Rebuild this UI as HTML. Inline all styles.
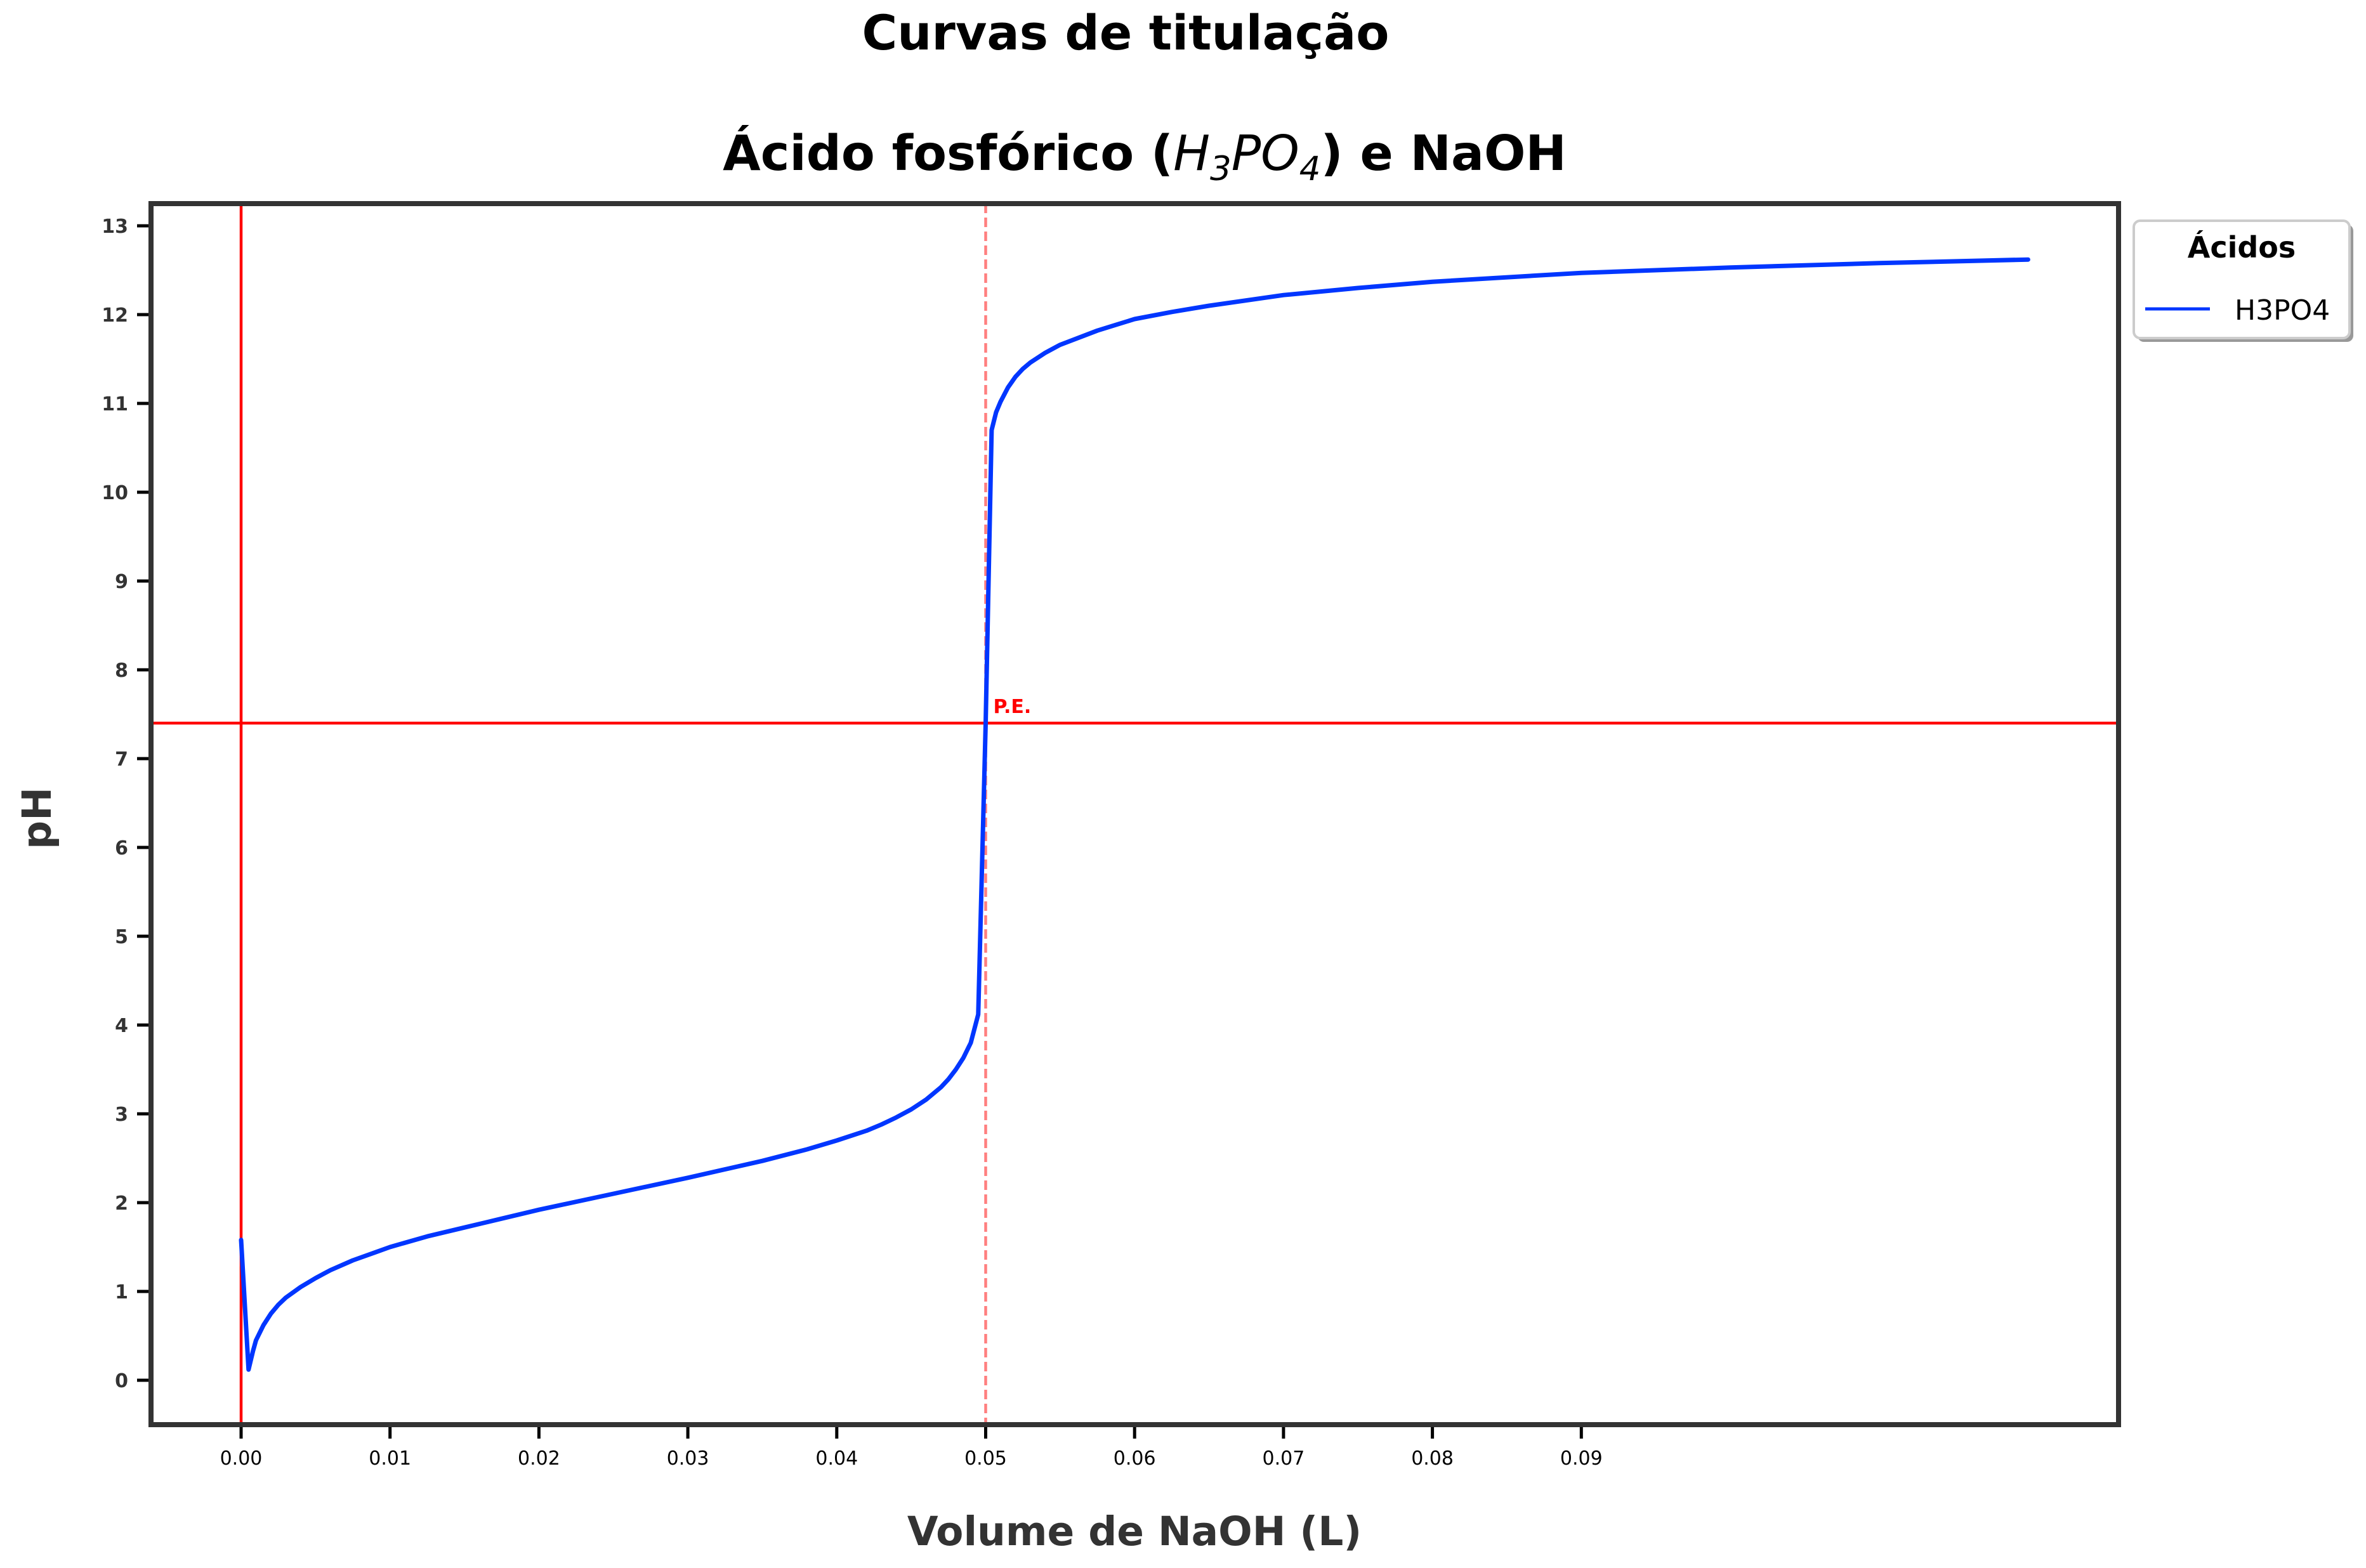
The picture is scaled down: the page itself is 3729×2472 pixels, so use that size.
<!DOCTYPE html>
<html><head><meta charset="utf-8"><style>
html,body{margin:0;padding:0;background:#fff}
svg{display:block;font-family:"DejaVu Sans","Liberation Sans",sans-serif}
</style></head><body>
<svg id="chart" width="3729" height="2472" viewBox="0 0 3729 2472" xmlns="http://www.w3.org/2000/svg">
<rect width="3729" height="2472" fill="#fff"/>
<text x="1774" y="78" text-anchor="middle" font-size="76" font-weight="bold">Curvas de titulação</text>
<text x="1804" y="268" text-anchor="middle" font-size="77" font-weight="bold">Ácido fosfórico (<tspan font-style="italic" font-weight="normal">H</tspan><tspan font-size="53" dy="16" font-style="italic" font-weight="normal">3</tspan><tspan dy="-16" font-style="italic" font-weight="normal">PO</tspan><tspan font-size="53" dy="16" font-style="italic" font-weight="normal">4</tspan><tspan dy="-16">) e NaOH</tspan></text>
<g id="plot"></g>
<g id="axes"></g>
<text x="1788" y="2436" text-anchor="middle" font-size="63" font-weight="bold" fill="#333">Volume de NaOH (L)</text>
<text transform="translate(80,1290) rotate(-90)" text-anchor="middle" font-size="63" font-weight="bold" fill="#333">pH</text>
<g>
<rect x="3369" y="354" width="340" height="185" rx="10" fill="#999"/>
<rect x="3363" y="348" width="340" height="185" rx="10" fill="#fff" stroke="#ccc" stroke-width="4"/>
<text x="3533" y="406" text-anchor="middle" font-size="46" font-weight="bold">Ácidos</text>
<line x1="3381" y1="487" x2="3483" y2="487" stroke="#0036ff" stroke-width="5"/>
<text x="3522" y="504" font-size="44">H3PO4</text>
</g>
</svg>
<script>
const volumes=[0,0.0005,0.0008,0.001,0.0015,0.002,0.0025,0.003,0.004,0.005,0.006,0.0075,0.009,0.01,0.0125,0.015,0.0175,0.02,0.025,0.03,0.035,0.038,0.04,0.042,0.043,0.044,0.045,0.046,0.047,0.0475,0.048,0.0485,0.049,0.0495,0.05,0.0504,0.0507,0.051,0.0515,0.052,0.0525,0.053,0.054,0.055,0.0575,0.06,0.0625,0.065,0.07,0.075,0.08,0.09,0.1,0.11,0.12];
const phValues=[1.58,0.12,0.33,0.45,0.62,0.75,0.85,0.93,1.05,1.15,1.24,1.35,1.44,1.5,1.62,1.72,1.82,1.92,2.1,2.28,2.47,2.6,2.7,2.81,2.88,2.96,3.05,3.16,3.3,3.39,3.5,3.63,3.8,4.12,7.4,10.7,10.9,11.02,11.18,11.3,11.39,11.46,11.57,11.66,11.82,11.95,12.03,12.1,12.22,12.3,12.37,12.47,12.53,12.58,12.62];
const xTicks=[0,0.01,0.02,0.03,0.04,0.05,0.06,0.07,0.08,0.09];
const xTickLabels=["0.00","0.01","0.02","0.03","0.04","0.05","0.06","0.07","0.08","0.09"];
const yTicks=[0,1,2,3,4,5,6,7,8,9,10,11,12,13];
const equivVolume=[0.05];
const equivPH=[7.4];

const L=238,R=3339,T=321,B=2246;
const X=v=>380+v*23470;
const Y=p=>2176-p*140;
const NS="http://www.w3.org/2000/svg";
const plot=document.getElementById('plot'),axes=document.getElementById('axes');
function mk(tag,attrs,parent){const e=document.createElementNS(NS,tag);for(const k in attrs)e.setAttribute(k,attrs[k]);parent.appendChild(e);return e;}

let e=mk('line',{x1:X(0),x2:X(0),y1:T,y2:B,stroke:'#ff0000','stroke-width':4.5},plot);


e=mk('line',{x1:L,x2:R,y1:Y(equivPH[0]),y2:Y(equivPH[0]),stroke:'#ff0000','stroke-width':4.5},plot);


e=mk('line',{x1:X(equivVolume[0]),x2:X(equivVolume[0]),y1:T,y2:B,stroke:'#ff0000','stroke-opacity':0.5,'stroke-width':4.5,'stroke-dasharray':'15,7'},plot);


e=mk('polyline',{points:volumes.map((v,i)=>X(v)+','+Y(phValues[i])).join(' '),fill:'none',stroke:'#0036ff','stroke-width':7,'stroke-linejoin':'round','stroke-linecap':'round'},plot);


e=mk('text',{x:X(equivVolume[0])+12,y:Y(equivPH[0])-16,'font-size':30,'font-weight':'bold',fill:'#ff0000'},plot);
e.textContent='P.E.';



e=mk('rect',{x:L,y:T,width:R-L,height:B-T,fill:'none',stroke:'#333','stroke-width':8},axes);


xTicks.forEach((t,i)=>{
  let tk=mk('line',{x1:X(t),x2:X(t),y1:B+4,y2:B+22,stroke:'#000','stroke-width':5},axes);
  
  
  let tx=mk('text',{x:X(t),y:B+63,'text-anchor':'middle','font-size':30},axes);
  tx.textContent=xTickLabels[i];
  
  
});
yTicks.forEach(t=>{
  let tk=mk('line',{x1:L-22,x2:L-4,y1:Y(t),y2:Y(t),stroke:'#000','stroke-width':5},axes);
  
  
  let tx=mk('text',{x:L-36,y:Y(t)+11,'text-anchor':'end','font-size':30,'font-weight':'bold',fill:'#333'},axes);
  tx.textContent=String(t);
  
  
});
</script>
</body></html>
